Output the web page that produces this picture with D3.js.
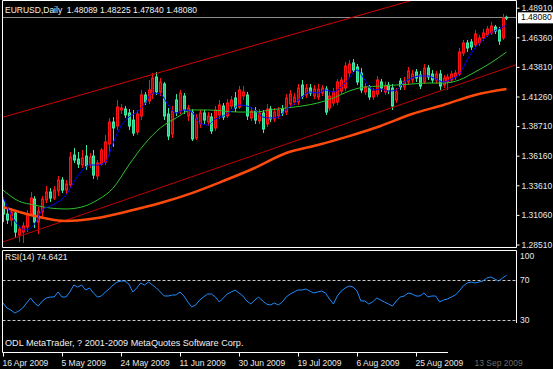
<!DOCTYPE html>
<html>
<head>
<meta charset="utf-8">
<script src="https://cdn.jsdelivr.net/npm/d3@7"></script>
<style>
  html, body { margin: 0; padding: 0; background: #000; }
  svg { display: block; font-family: "Liberation Sans", Arial, sans-serif; font-size: 8.5px; }
  text { white-space: pre; }
</style>
</head>
<body>
<svg id="chart"></svg>
<script>
// header texts
var symbolTitle = "EURUSD,Daily  1.48089 1.48225 1.47840 1.48080";
var rsiTitle = "RSI(14) 74.6421";
var copyright = "ODL MetaTrader, ? 2001-2009 MetaQuotes Software Corp.";
var bidPrice = 1.48080;

// daily bars (index 0 = 16 Apr 2009)
var open = [1.3225,1.3113,1.3062,1.3122,1.2933,1.2958,1.3001,1.3113,1.3243,1.3044,
  1.3131,1.3234,1.3303,1.3251,1.3312,1.3406,1.3320,1.3363,1.3622,1.3587,
  1.3536,1.3613,1.3536,1.3613,1.3441,1.3544,1.3561,1.3717,1.3906,1.3872,
  1.4010,1.4018,1.3984,1.3923,1.3820,1.3958,1.4139,1.4087,1.4147,1.4294,
  1.4165,1.4234,1.3975,1.3803,1.4096,1.4001,1.4130,1.3958,1.3992,1.3768,
  1.3889,1.3984,1.3906,1.3949,1.3855,1.3967,1.4044,1.3958,1.4044,1.4113,
  1.4035,1.4130,1.4139,1.3941,1.4001,1.3915,1.3984,1.3889,1.4018,1.3932,
  1.3958,1.4018,1.3992,1.4061,1.4078,1.4078,1.4225,1.4139,1.4199,1.4130,
  1.4122,1.4156,1.4190,1.4027,1.4070,1.4078,1.4173,1.4199,1.4328,1.4415,
  1.4380,1.4328,1.4165,1.4199,1.4122,1.4147,1.4251,1.4165,1.4225,1.4199,
  1.4096,1.4259,1.4208,1.4251,1.4268,1.4337,1.4311,1.4251,1.4371,1.4320,
  1.4268,1.4320,1.4225,1.4251,1.4268,1.4294,1.4320,1.4501,1.4587,1.4596,
  1.4570,1.4587,1.4630,1.4656,1.4673,1.4725,1.4699,1.4630,1.48089];
var high = [1.3260,1.3165,1.3165,1.3148,1.3010,1.3044,1.3148,1.3303,1.3268,1.3174,
  1.3268,1.3355,1.3337,1.3355,1.3441,1.3432,1.3406,1.3648,1.3682,1.3648,
  1.3665,1.3708,1.3639,1.3665,1.3579,1.3682,1.3794,1.3941,1.3949,1.4096,
  1.4061,1.4044,1.4018,1.4010,1.4010,1.4182,1.4165,1.4268,1.4328,1.4337,
  1.4285,1.4251,1.4027,1.4044,1.4147,1.4182,1.4156,1.4053,1.4018,1.3975,
  1.4010,1.4010,1.3992,1.3984,1.4044,1.4096,1.4070,1.4104,1.4130,1.4165,
  1.4216,1.4216,1.4165,1.4035,1.4035,1.4018,1.4010,1.4061,1.4044,1.4027,
  1.4035,1.4053,1.4147,1.4182,1.4156,1.4234,1.4268,1.4234,1.4234,1.4225,
  1.4234,1.4225,1.4216,1.4165,1.4199,1.4277,1.4294,1.4423,1.4440,1.4449,
  1.4406,1.4371,1.4242,1.4225,1.4199,1.4303,1.4277,1.4251,1.4251,1.4234,
  1.4199,1.4285,1.4294,1.4380,1.4354,1.4363,1.4346,1.4406,1.4397,1.4354,
  1.4346,1.4354,1.4311,1.4320,1.4346,1.4354,1.4544,1.4613,1.4613,1.4621,
  1.4699,1.4656,1.4707,1.4733,1.4768,1.4742,1.4725,1.4837,1.48225];
var low = [1.3044,1.3027,1.3010,1.2907,1.2872,1.2864,1.2958,1.3096,1.2993,1.2941,
  1.3079,1.3208,1.3217,1.3234,1.3268,1.3294,1.3286,1.3337,1.3553,1.3510,
  1.3510,1.3493,1.3510,1.3415,1.3406,1.3527,1.3536,1.3622,1.3691,1.3837,
  1.3975,1.3941,1.3837,1.3785,1.3794,1.3923,1.4053,1.4061,1.4104,1.4139,
  1.4130,1.3923,1.3751,1.3768,1.3958,1.3975,1.3975,1.3915,1.3742,1.3751,
  1.3855,1.3889,1.3872,1.3803,1.3829,1.3932,1.3923,1.3941,1.4018,1.3992,
  1.4018,1.4096,1.3923,1.3915,1.3889,1.3889,1.3811,1.3863,1.3906,1.3906,
  1.3932,1.3958,1.3967,1.4027,1.4053,1.4053,1.4104,1.4113,1.4130,1.4104,
  1.4096,1.4130,1.3967,1.4001,1.4044,1.4053,1.4147,1.4173,1.4285,1.4328,
  1.4225,1.4156,1.4139,1.4096,1.4096,1.4122,1.4165,1.4139,1.4147,1.4010,
  1.4070,1.4182,1.4182,1.4225,1.4242,1.4251,1.4190,1.4234,1.4268,1.4242,
  1.4234,1.4182,1.4199,1.4182,1.4242,1.4268,1.4303,1.4475,1.4509,1.4527,
  1.4552,1.4561,1.4604,1.4638,1.4656,1.4664,1.4570,1.4613,1.47840];
var close = [1.3113,1.3062,1.3131,1.2958,1.2984,1.3010,1.3113,1.3251,1.3044,1.3139,
  1.3243,1.3303,1.3251,1.3320,1.3406,1.3320,1.3372,1.3604,1.3579,1.3544,
  1.3596,1.3527,1.3604,1.3449,1.3553,1.3665,1.3734,1.3906,1.3855,1.4035,
  1.4027,1.3967,1.3872,1.3811,1.3975,1.4139,1.4078,1.4182,1.4285,1.4165,
  1.4251,1.3958,1.3785,1.4001,1.3992,1.4156,1.4010,1.4027,1.3760,1.3941,
  1.3984,1.3923,1.3958,1.3829,1.4010,1.4053,1.3949,1.4070,1.4096,1.4027,
  1.4182,1.4165,1.3958,1.4001,1.3923,1.3984,1.3846,1.4018,1.3932,1.3992,
  1.4010,1.3984,1.4113,1.4147,1.4122,1.4199,1.4130,1.4199,1.4156,1.4190,
  1.4190,1.4199,1.3992,1.4130,1.4165,1.4251,1.4268,1.4389,1.4406,1.4354,
  1.4251,1.4182,1.4208,1.4122,1.4173,1.4268,1.4199,1.4216,1.4182,1.4044,
  1.4165,1.4208,1.4259,1.4346,1.4320,1.4285,1.4216,1.4371,1.4294,1.4268,
  1.4320,1.4216,1.4285,1.4294,1.4320,1.4328,1.4509,1.4587,1.4544,1.4552,
  1.4664,1.4630,1.4673,1.4707,1.4733,1.4690,1.4604,1.4802,1.48080];

// moving averages (blue every 2 bars, green every 4, orange every 8)
var maFastStep = 2;
var maFast = [1.3260,1.3113,1.3010,1.2976,1.3027,1.3148,1.3182,1.3217,1.3277,1.3389,
  1.3484,1.3536,1.3536,1.3561,1.3725,1.3872,1.3949,1.3992,1.4061,1.4156,
  1.4147,1.4053,1.3984,1.4010,1.3992,1.3898,1.3880,1.3932,1.3958,1.4001,
  1.4053,1.4044,1.4010,1.3949,1.3941,1.3949,1.4018,1.4061,1.4122,1.4165,
  1.4156,1.4182,1.4165,1.4208,1.4285,1.4354,1.4268,1.4182,1.4190,1.4173,
  1.4182,1.4251,1.4285,1.4303,1.4303,1.4277,1.4251,1.4277,1.4320,1.4440,
  1.4544,1.4613,1.4673,1.4707,1.4742];
var maMidStep = 4;
var maMid = [1.3320,1.3225,1.3191,1.3165,1.3157,1.3174,1.3234,1.3337,1.3536,1.3717,
  1.3855,1.3941,1.4010,1.4010,1.4001,1.3992,1.3992,1.4010,1.4027,1.4044,
  1.4070,1.4113,1.4173,1.4208,1.4216,1.4225,1.4234,1.4242,1.4242,1.4268,
  1.4337,1.4415,1.4509];
var maSlowStep = 8;
var maSlow = [1.3174,1.3096,1.3053,1.3079,1.3139,1.3208,1.3294,1.3398,1.3510,1.3639,
  1.3708,1.3785,1.3872,1.3975,1.4053,1.4139,1.4190];

// trend lines: [bar index, price]
var trendUpper = [[-1, 1.3938], [131, 1.5216]];
var trendLower = [[-1, 1.2861], [131, 1.4406]];

// RSI(14) per bar
var rsi = [47,42,40,37,39,42,47,52,47,44,
  49,52,53,53,58,53,53,58,65,63,
  65,60,62,57,53,54,58,61,65,68,
  69,69,66,58,62,67,65,68,65,62,
  58,54,54,55,55,58,54,48,43,45,
  50,53,56,56,53,48,52,56,58,60,
  57,54,49,46,50,53,49,46,45,47,
  45,48,53,56,58,60,60,61,59,57,
  58,59,57,51,46,54,59,62,64,63,
  59,49,49,46,48,52,50,48,46,44,
  49,53,54,57,56,54,54,57,53,54,
  54,48,50,51,53,55,59,64,67,68,
  67,68,69,72,73,71,69,72,74.64];
var rsiLevels = [70, 30];

// axis ticks
var priceTicks = [1.2851, 1.3106, 1.3361, 1.3616, 1.3871, 1.4126, 1.4381, 1.4636, 1.4891];
var dateTickIdx = [0, 15, 30, 45, 60, 75, 90, 105, 120];
var dateLabels = ["16 Apr 2009", "5 May 2009", "24 May 2009", "11 Jun 2009", "30 Jun 2009",
  "19 Jul 2009", "6 Aug 2009", "25 Aug 2009", "13 Sep 2009"];

var width = 553, height = 369;
var left = 2.5, right = 516.5, mainBottom = 247.5, rsiTop = 250.5, axisY = 352.5;

var svg = d3.select("#chart").attr("width", width).attr("height", height);
svg.append("rect").attr("width", width).attr("height", height).attr("fill", "#000");

// scales
var x = d3.scaleLinear().domain([0, 120]).range([3, 475]);
var y = d3.scaleLinear().domain([1.2851, 1.4891]).range([244.5, 7.7]);
var yR = d3.scaleLinear().domain([0, 100]).range([350, 250]);

var defs = svg.append("defs");
defs.append("clipPath").attr("id", "clipMain").append("rect")
  .attr("x", 3).attr("y", 1).attr("width", 513).attr("height", 246);
defs.append("clipPath").attr("id", "clipRsi").append("rect")
  .attr("x", 3).attr("y", 251).attr("width", 513).attr("height", 101);

var gMain = svg.append("g").attr("clip-path", "url(#clipMain)");

// bid line
gMain.append("line")
  .attr("x1", left).attr("x2", right)
  .attr("y1", Math.round(y(bidPrice)) + 0.5).attr("y2", Math.round(y(bidPrice)) + 0.5)
  .attr("stroke", "#8c8c8c");

// candles
var bars = close.map(function(c, i) { return {i: i, o: open[i], h: high[i], l: low[i], c: c}; });
var candle = gMain.selectAll(".candle").data(bars).enter().append("g").attr("class", "candle");
function cx(d) { return Math.round(x(d.i)) + 0.5; }
function up(d) { return d.c > d.o; }
candle.append("line")
  .attr("x1", cx).attr("x2", cx)
  .attr("y1", function(d) { return y(d.h); })
  .attr("y2", function(d) { return y(d.l); })
  .attr("stroke", function(d) { return up(d) ? "#ff1010" : "#3ee8a0"; });
candle.append("rect")
  .attr("x", function(d) { return cx(d) - 1; })
  .attr("width", 2)
  .attr("y", function(d) { return y(Math.max(d.o, d.c)); })
  .attr("height", function(d) { return Math.max(1, Math.abs(y(d.o) - y(d.c))); })
  .attr("fill", function(d) { return up(d) ? "#b00000" : "#2cc783"; })
  .attr("stroke", function(d) { return up(d) ? "#ff1010" : "#3ee8a0"; })
  .attr("stroke-width", 1);

// trend lines
var tline = d3.line().x(function(d) { return x(d[0]); }).y(function(d) { return y(d[1]); });
gMain.append("path").attr("d", tline(trendUpper)).attr("fill", "none").attr("stroke", "#d40000");
gMain.append("path").attr("d", tline(trendLower)).attr("fill", "none").attr("stroke", "#c00000");

// moving averages
function maPath(values, step) {
  return d3.line().curve(d3.curveMonotoneX)
    .x(function(d, i) { return x(i * step); })
    .y(function(d) { return y(d); })(values);
}
gMain.append("path").attr("d", maPath(maSlow, maSlowStep))
  .attr("fill", "none").attr("stroke", "#ff4a0a").attr("stroke-width", 2.5);
gMain.append("path").attr("d", maPath(maMid, maMidStep))
  .attr("fill", "none").attr("stroke", "#2cc42c").attr("stroke-width", 1);
gMain.append("path").attr("d", maPath(maFast, maFastStep))
  .attr("fill", "none").attr("stroke", "#0000ff").attr("stroke-width", 1);

// RSI panel
var gRsi = svg.append("g").attr("clip-path", "url(#clipRsi)");
gRsi.selectAll(".level").data(rsiLevels).enter().append("line")
  .attr("x1", left).attr("x2", right)
  .attr("y1", function(d) { return yR(d) + 0.5; }).attr("y2", function(d) { return yR(d) + 0.5; })
  .attr("stroke", "#c8c8c8").attr("stroke-dasharray", "3,2");
gRsi.append("path")
  .attr("d", d3.line().x(function(d, i) { return x(i); }).y(function(d) { return yR(d); })(rsi))
  .attr("fill", "none").attr("stroke", "#1e8cff").attr("stroke-width", 1);

// frames
var frame = svg.append("g").attr("stroke", "#fff").attr("fill", "none");
frame.append("path").attr("d", "M" + left + ",0.5H" + right + "V" + mainBottom + "H" + left + "Z");
frame.append("path").attr("d", "M" + left + "," + axisY + "V" + rsiTop + "H" + right + "V323");
frame.append("path").attr("d", "M" + left + "," + axisY + "H448");

// price axis
var yAxis = svg.append("g").attr("transform", "translate(" + right + ",0)")
  .call(d3.axisRight(y).tickValues(priceTicks).tickFormat(d3.format(".5f")).tickSize(3).tickPadding(2).tickSizeOuter(0));
yAxis.select(".domain").remove();
yAxis.selectAll("line").attr("stroke", "#fff");
yAxis.selectAll("text").attr("fill", "#e8e8e8").attr("font-size", "8.5px").attr("font-family", "Liberation Sans");

// bid label
var by = y(bidPrice);
svg.append("rect").attr("x", 518).attr("y", by - 5).attr("width", 35).attr("height", 11).attr("fill", "#fff");
svg.append("text").attr("x", 521).attr("y", by + 3).attr("fill", "#000").text(d3.format(".5f")(bidPrice));

// RSI scale labels
svg.append("text").attr("x", 520).attr("y", 259).attr("fill", "#e8e8e8").text("100");
svg.selectAll(".rsiLab").data(rsiLevels).enter().append("text")
  .attr("x", 520).attr("y", function(d) { return yR(d) + 3; })
  .attr("fill", "#e8e8e8").text(function(d) { return d; });

// time axis
var xAxis = svg.append("g").attr("transform", "translate(0," + axisY + ")")
  .call(d3.axisBottom(x).tickValues(dateTickIdx).tickFormat(function(d, i) { return dateLabels[i]; }).tickSize(4).tickPadding(3).tickSizeOuter(0));
xAxis.select(".domain").remove();
xAxis.selectAll("line").attr("stroke", "#fff");
xAxis.selectAll("text").attr("text-anchor", "start").attr("dx", "-1")
  .attr("fill", function(d, i) { return i === dateLabels.length - 1 ? "#6a6a6a" : "#e8e8e8"; })
  .attr("font-size", "8.5px").attr("font-family", "Liberation Sans");
xAxis.selectAll(".tick").filter(function(d, i) { return i === dateLabels.length - 1; }).select("line").remove();

// titles
svg.append("text").attr("x", 5).attr("y", 13).attr("fill", "#f0f0f0").text(symbolTitle);
svg.append("text").attr("x", 5).attr("y", 260).attr("fill", "#f0f0f0").text(rsiTitle);
svg.append("text").attr("x", 5).attr("y", 346).attr("fill", "#f0f0f0").attr("font-size", "9.1px").text(copyright);
</script>
</body>
</html>
